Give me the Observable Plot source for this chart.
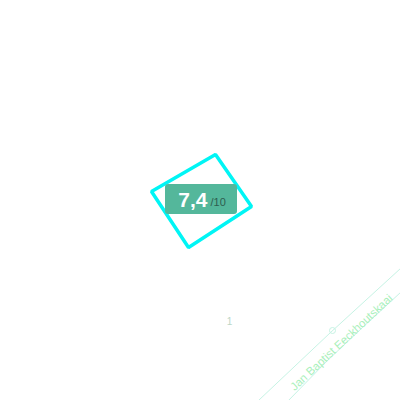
<!DOCTYPE html>
<html>
<head>
<meta charset="utf-8">
<script src="https://cdn.jsdelivr.net/npm/d3@7"></script>
<script src="https://cdn.jsdelivr.net/npm/@observablehq/plot@0.6"></script>
<style>
  html, body { margin: 0; padding: 0; background: #fff; }
  svg { display: block; }
</style>
</head>
<body>
<div id="chart"></div>
<script>
// Map-like scene in pixel coordinates (x east, y south)
const buildingX = [215, 251, 188, 151];
const buildingY = [154, 206, 247, 191];

const roadUpperX = [400, 330, 258];
const roadUpperY = [268, 332, 400];
const roadLowerX = [400, 362, 327, 288];
const roadLowerY = [292, 327, 360, 400];

const streetName = "Jan Baptist Eeckhoutskaai";
const streetX = [341];
const streetY = [342];
const streetAngle = -43;

const houseNumber = "1";
const houseX = [229];
const houseY = [321];

const markerX = [332];
const markerY = [330];

const score = 7.4;
const scoreMax = 10;
const labelBoxX = [165, 237];
const labelBoxY = [184, 214];
const scoreX = [207];
const scoreY = [199.5];
const maxX = [210];
const maxY = [201.5];

const building = buildingX.map((x, i) => ({x, y: buildingY[i]}));
const roadUpper = roadUpperX.map((x, i) => ({x, y: roadUpperY[i], road: "upper"}));
const roadLower = roadLowerX.map((x, i) => ({x, y: roadLowerY[i], road: "lower"}));
const scoreText = String(score).replace(".", ",");

const chart = Plot.plot({
  width: 400,
  height: 400,
  margin: 0,
  x: {domain: [0, 400], axis: null},
  y: {domain: [400, 0], axis: null},
  style: {background: "#ffffff", fontFamily: "'Liberation Sans', Arial, sans-serif"},
  marks: [
    Plot.line(roadUpper, {x: "x", y: "y", stroke: "#c6f3e4", strokeWidth: 1}),
    Plot.line(roadLower, {x: "x", y: "y", stroke: "#c6f3e4", strokeWidth: 1}),
    Plot.dot(markerX.map((x, i) => ({x, y: markerY[i]})), {x: "x", y: "y", r: 3, stroke: "#c6f3e4", strokeWidth: 1, fill: "none"}),
    Plot.text([streetName], {x: () => streetX[0], y: () => streetY[0], text: d => d, rotate: streetAngle, fill: "#a9f0bb", fontSize: 11.5, letterSpacing: "0.7px"}),
    Plot.text([houseNumber], {x: () => houseX[0], y: () => houseY[0], text: d => d, fill: "#bcd6c6", fontSize: 10}),
    Plot.line(building, {x: "x", y: "y", curve: "linear-closed", stroke: "#00f5f5", strokeWidth: 3.5, strokeLinejoin: "miter"}),
    Plot.rect([0], {x1: () => labelBoxX[0], x2: () => labelBoxX[1], y1: () => labelBoxY[0], y2: () => labelBoxY[1], fill: "#54b79b", rx: 3}),
    Plot.text([scoreText], {x: () => scoreX[0], y: () => scoreY[0], text: d => d, textAnchor: "end", fill: "#ffffff", fontSize: 21, fontWeight: "bold"}),
    Plot.text(["/" + scoreMax], {x: () => maxX[0], y: () => maxY[0], text: d => d, textAnchor: "start", fill: "#2e5e50", fontSize: 11})
  ]
});
document.getElementById("chart").append(chart);
</script>
</body>
</html>
